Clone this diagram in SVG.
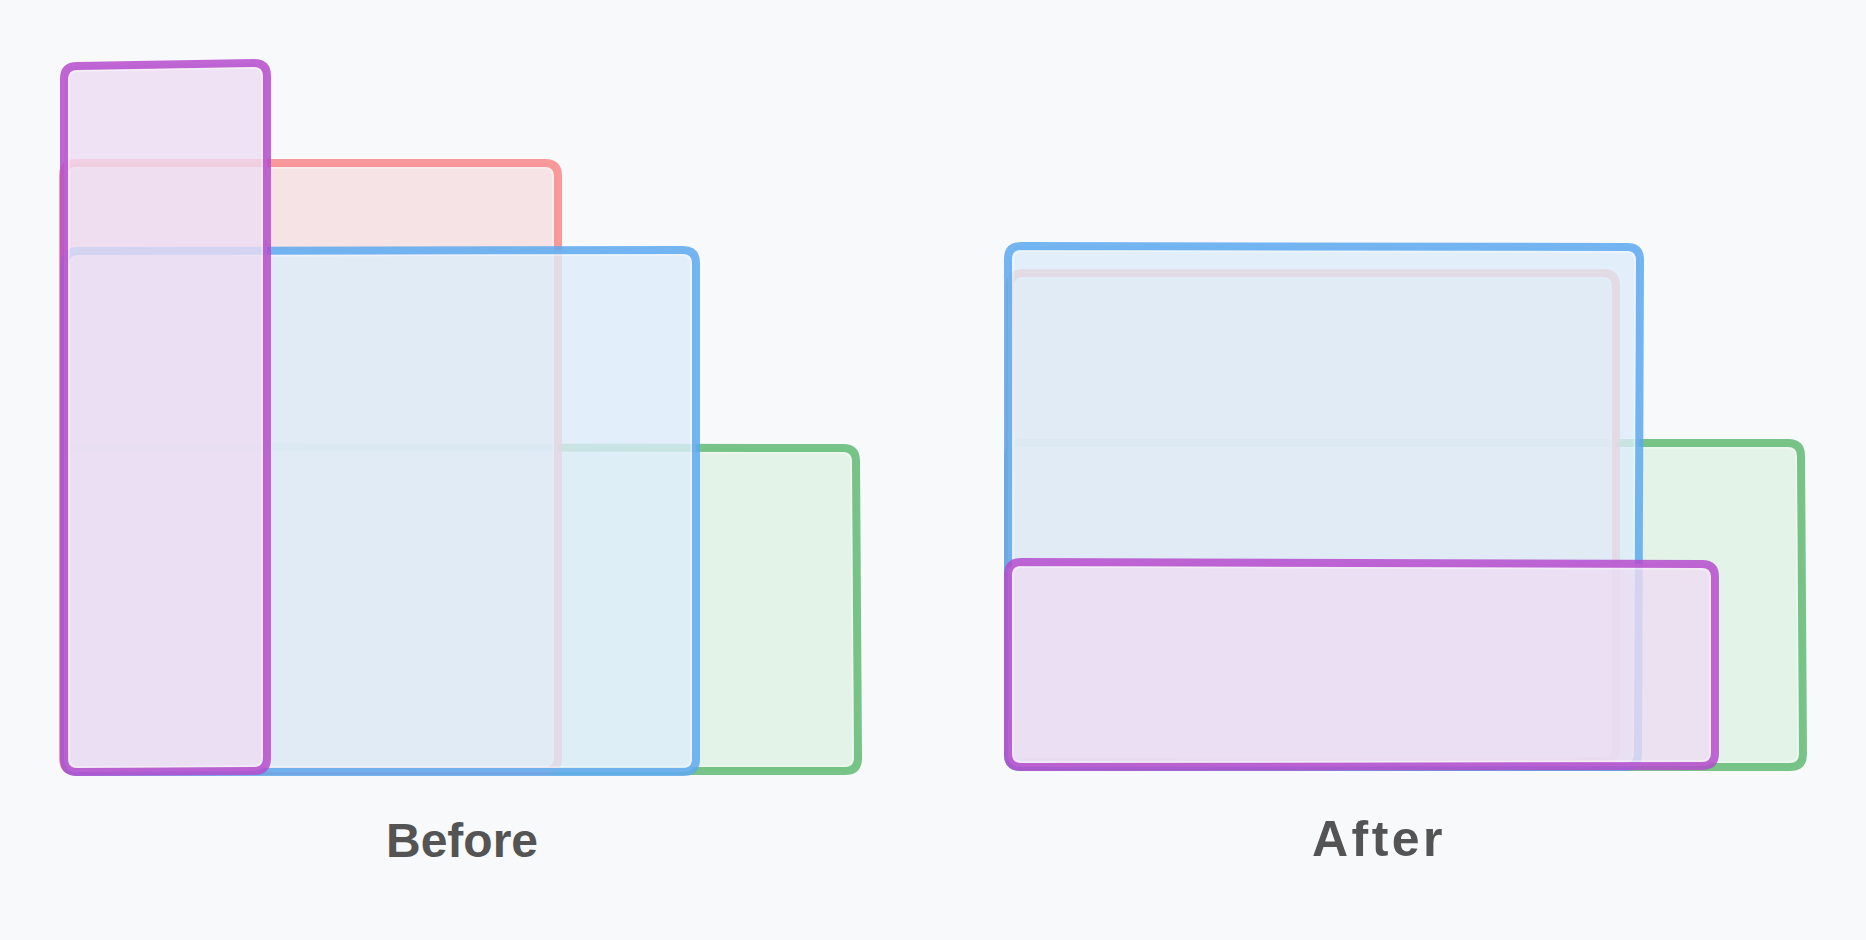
<svg xmlns="http://www.w3.org/2000/svg" width="1866" height="940" viewBox="0 0 1866 940">
<style>
.box{stroke-width:8;stroke-linejoin:round;stroke-opacity:0.85}
.hl{fill:none;stroke:#ffffff;stroke-opacity:0.4;stroke-width:1.5}
.green{fill:#e0f2e4;fill-opacity:0.9;stroke:#61ba73}
.red{fill:#f4dfe0;fill-opacity:0.85;stroke:#f8898b}
.blue{fill:#dcecfa;fill-opacity:0.8;stroke:#5da9ee}
.purple{fill:#ecdcf3;fill-opacity:0.8;stroke:#b54ccd}
.label{font-family:"Liberation Sans",Arial,sans-serif;font-weight:bold;font-size:48px;fill:#545454;text-anchor:middle}
</style>
<rect x="0" y="0" width="1866" height="940" fill="#f8f9fb"/>
<g id="before">
  <g id="before-green">
    <path class="box green" d="M78,447 L843,448 Q856,448 856,461 L858,758 Q858,771 845,771 L78,771 Q65,771 65,758 L65,460 Q65,447 78,447 Z"/>
    <path class="hl" d="M79,452 L842,453 Q851,453 851,462 L853,757 Q853,766 844,766 L79,766 Q70,766 70,757 L70,461 Q70,452 79,452 Z"/>
  </g>
  <g id="before-red">
    <path class="box red" d="M76,163 L545,163 Q558,163 558,176 L558,758 Q558,771 545,771 L76,771 Q63,771 63,758 L63,176 Q63,163 76,163 Z"/>
    <path class="hl" d="M77,168 L544,168 Q553,168 553,177 L553,757 Q553,766 544,766 L77,766 Q68,766 68,757 L68,177 Q68,168 77,168 Z"/>
  </g>
  <g id="before-blue">
    <path class="box blue" d="M78,251 L683,250 Q696,250 696,263 L696,759 Q696,772 683,772 L78,772 Q65,772 65,759 L65,264 Q65,251 78,251 Z"/>
    <path class="hl" d="M79,256 L682,255 Q691,255 691,264 L691,758 Q691,767 682,767 L79,767 Q70,767 70,758 L70,265 Q70,256 79,256 Z"/>
  </g>
  <g id="before-purple">
    <path class="box purple" d="M77,66 L254,63 Q267,63 267,76 L267,758 Q267,771 254,771 L77,772 Q64,772 64,759 L64,79 Q64,66 77,66 Z"/>
    <path class="hl" d="M78,71 L253,68 Q262,68 262,77 L262,757 Q262,766 253,766 L78,767 Q69,767 69,758 L69,80 Q69,71 78,71 Z"/>
  </g>
  <text id="before-label" class="label" x="462" y="857">Before</text>
</g>
<g id="after">
  <g id="after-green">
    <path class="box green" d="M1021,443 L1788,443 Q1801,443 1801,456 L1803,754 Q1803,767 1790,767 L1021,767 Q1008,767 1008,754 L1008,456 Q1008,443 1021,443 Z"/>
    <path class="hl" d="M1022,448 L1787,448 Q1796,448 1796,457 L1798,753 Q1798,762 1789,762 L1022,762 Q1013,762 1013,753 L1013,457 Q1013,448 1022,448 Z"/>
  </g>
  <g id="after-red">
    <path class="box red" d="M1023,273 L1603,273 Q1616,273 1616,286 L1616,748 Q1616,761 1603,761 L1021,762 Q1008,762 1008,749 L1010,286 Q1010,273 1023,273 Z"/>
    <path class="hl" d="M1024,278 L1602,278 Q1611,278 1611,287 L1611,747 Q1611,756 1602,756 L1022,757 Q1013,757 1013,748 L1015,287 Q1015,278 1024,278 Z"/>
  </g>
  <g id="after-blue">
    <path class="box blue" d="M1021,246 L1627,247 Q1640,247 1640,260 L1638,754 Q1638,767 1625,767 L1021,767 Q1008,767 1008,754 L1008,259 Q1008,246 1021,246 Z"/>
    <path class="hl" d="M1022,251 L1626,252 Q1635,252 1635,261 L1633,753 Q1633,762 1624,762 L1022,762 Q1013,762 1013,753 L1013,260 Q1013,251 1022,251 Z"/>
  </g>
  <g id="after-purple">
    <path class="box purple" d="M1021,562 L1702,564 Q1715,564 1715,577 L1715,753 Q1715,766 1702,766 L1021,767 Q1008,767 1008,754 L1008,575 Q1008,562 1021,562 Z"/>
    <path class="hl" d="M1022,567 L1701,569 Q1710,569 1710,578 L1710,752 Q1710,761 1701,761 L1022,762 Q1013,762 1013,753 L1013,576 Q1013,567 1022,567 Z"/>
  </g>
  <text id="after-label" class="label" x="1379" y="856" style="font-size:50px;letter-spacing:3.5px">After</text>
</g>
<g id="connectors"/>
</svg>
